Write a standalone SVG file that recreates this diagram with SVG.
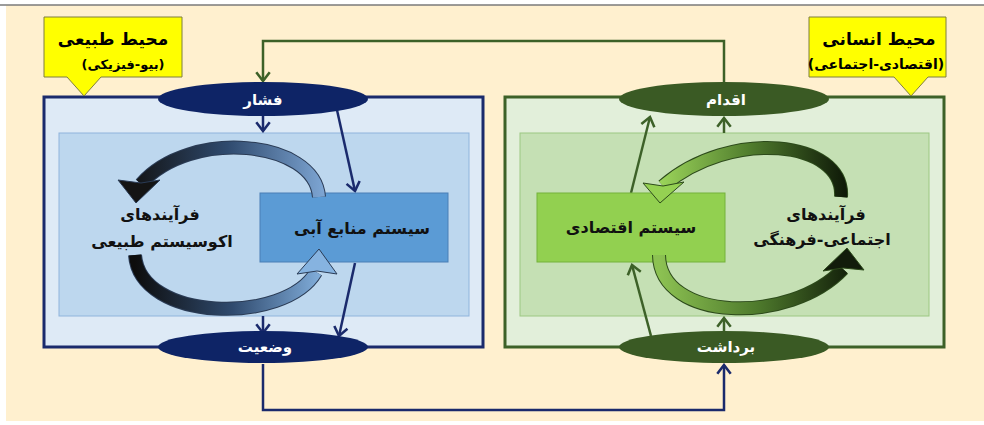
<svg xmlns="http://www.w3.org/2000/svg" width="984" height="425" viewBox="0 0 984 425">
<defs>
<style>
.t{font-family:"DejaVu Sans","Noto Sans",sans-serif;font-weight:bold;text-anchor:middle}
.w{fill:#fff;font-size:15px}
.b{fill:#111;font-size:16px}
.nv{fill:none;stroke:#1a2a6c;stroke-width:2.5}
.gr{fill:none;stroke:#3d6128;stroke-width:2.5}
.ar{fill:none;stroke-width:12}
.ob{fill:none;stroke:#2a3b55;stroke-width:14}
.og{fill:none;stroke:#2c4a1a;stroke-width:14}
.hb{stroke:#2a3b55;stroke-width:1}
.hg{stroke:#2c4a1a;stroke-width:1}
</style>
<marker id="an" viewBox="0 0 10 10" refX="9" refY="5" markerWidth="16" markerHeight="16" markerUnits="userSpaceOnUse" orient="auto"><path d="M3.5,0.8 L9,5 L3.5,9.2" fill="none" stroke="#1a2a6c" stroke-width="1.6"/></marker>
<marker id="ag" viewBox="0 0 10 10" refX="9" refY="5" markerWidth="16" markerHeight="16" markerUnits="userSpaceOnUse" orient="auto"><path d="M3.5,0.8 L9,5 L3.5,9.2" fill="none" stroke="#3d6128" stroke-width="1.6"/></marker>
<linearGradient id="g1" gradientUnits="userSpaceOnUse" x1="325" y1="0" x2="130" y2="0"><stop offset="0" stop-color="#7ea6d4"/><stop offset="0.5" stop-color="#2f4a6e"/><stop offset="1" stop-color="#121212"/></linearGradient>
<linearGradient id="g2" gradientUnits="userSpaceOnUse" x1="135" y1="0" x2="330" y2="0"><stop offset="0" stop-color="#0d0d0d"/><stop offset="0.5" stop-color="#2f4a6e"/><stop offset="1" stop-color="#8ab8e6"/></linearGradient>
<linearGradient id="g3" gradientUnits="userSpaceOnUse" x1="845" y1="0" x2="660" y2="0"><stop offset="0" stop-color="#0f1a08"/><stop offset="0.5" stop-color="#4e7a2c"/><stop offset="1" stop-color="#9bd45a"/></linearGradient>
<linearGradient id="g4" gradientUnits="userSpaceOnUse" x1="660" y1="0" x2="855" y2="0"><stop offset="0" stop-color="#8cc152"/><stop offset="0.5" stop-color="#4e7a2c"/><stop offset="1" stop-color="#0f1a08"/></linearGradient>
</defs>
<rect width="984" height="425" fill="#fff"/>
<rect x="6" y="5" width="978" height="416" fill="#fff0cf"/>
<line x1="0" y1="5" x2="984" y2="5" stroke="#7a7a7a" stroke-width="1.5"/>

<g id="natural-env">
<rect x="44" y="97" width="439" height="250" fill="#deeaf6" stroke="#1a2a6c" stroke-width="3"/>
<rect x="59" y="133" width="410" height="183" fill="#bdd7ee" stroke="#8fb4dc" stroke-width="1"/>
</g>
<g id="human-env">
<rect x="505" y="97" width="439" height="250" fill="#e2efda" stroke="#3d6128" stroke-width="3"/>
<rect x="520" y="133" width="409" height="183" fill="#c5e0b4" stroke="#9cc882" stroke-width="1"/>
</g>

<g id="callout-natural">
<path d="M44,17 H182 V77 H101 L84,96 L67,77 H44 Z" fill="#ffff00" stroke="#7f7f3f" stroke-width="1"/>
<text class="t" x="113" y="45" font-size="17" fill="#000">محیط طبیعی</text>
<text class="t" x="123" y="69" font-size="13" fill="#000">(بیو-فیزیکی)</text>
</g>
<g id="callout-human">
<path d="M809,17 H946 V77 H928 L911,96 L894,77 H809 Z" fill="#ffff00" stroke="#7f7f3f" stroke-width="1"/>
<text class="t" x="879" y="45" font-size="17" fill="#000">محیط انسانی</text>
<text class="t" x="876" y="69" font-size="14" fill="#000">(اقتصادی-اجتماعی)</text>
</g>

<g id="connectors">
<path class="gr" d="M724,84 V41 H263 V81" marker-end="url(#ag)"/>
<path class="nv" d="M263,364 V410 H724 V365" marker-end="url(#an)"/>
<path class="nv" d="M263,116 V131" marker-end="url(#an)"/>
<path class="nv" d="M337,110 L355,191" marker-end="url(#an)"/>
<path class="nv" d="M355,263 L339,336" marker-end="url(#an)"/>
<path class="nv" d="M263,316 V333" marker-end="url(#an)"/>
<path class="gr" d="M724,133 V118" marker-end="url(#ag)"/>
<path class="gr" d="M631,193 L650,117" marker-end="url(#ag)"/>
<path class="gr" d="M651,336 L632,265" marker-end="url(#ag)"/>
<path class="gr" d="M724,333 V318" marker-end="url(#ag)"/>
</g>

<g id="water-system">
<rect x="260" y="193" width="188" height="69" fill="#5b9bd5" stroke="#4a7fb5" stroke-width="1"/>
<text class="t b" x="362" y="234">سیستم منابع آبی</text>
</g>
<g id="economic-system">
<rect x="537" y="193" width="188" height="69" fill="#92d050" stroke="#75b23a" stroke-width="1"/>
<text class="t b" x="631" y="233">سیستم اقتصادی</text>
</g>

<g id="eco-processes">
<path class="ob" d="M319,197 C315,140 190,128 141,184"/>
<path class="ar" d="M319,197 C315,140 190,128 141,184" stroke="url(#g1)"/>
<polygon class="hb" points="118,180 141,183 160,180 136,203" fill="#141414"/>
<path class="ob" d="M135,255 C140,322 285,325 316,272"/>
<path class="ar" d="M135,255 C140,322 285,325 316,272" stroke="url(#g2)"/>
<polygon class="hb" points="297,274 317,271 337,274 319,249" fill="#86b3e0"/>
<text class="t b" x="160" y="220">فرآیندهای</text>
<text class="t b" x="162" y="247">اکوسیستم طبیعی</text>
</g>
<g id="socio-processes">
<path class="og" d="M841,197 C845,140 730,128 663,186"/>
<path class="ar" d="M841,197 C845,140 730,128 663,186" stroke="url(#g3)"/>
<polygon class="hg" points="643,183 663,186 684,182 660,203" fill="#95d152"/>
<path class="og" d="M659,255 C660,322 790,325 843,269"/>
<path class="ar" d="M659,255 C660,322 790,325 843,269" stroke="url(#g4)"/>
<polygon class="hg" points="823,271 843,268 864,270 847,248" fill="#121c0b"/>
<text class="t b" x="826" y="220">فرآیندهای</text>
<text class="t b" x="822" y="245">اجتماعی-فرهنگی</text>
</g>

<g id="node-pressure">
<ellipse cx="263" cy="99" rx="105" ry="17" fill="#0e2466"/>
<text class="t w" x="263" y="105">فشار</text>
</g>
<g id="node-state">
<ellipse cx="263" cy="347" rx="105" ry="16" fill="#0e2466"/>
<text class="t w" x="265" y="352">وضعیت</text>
</g>
<g id="node-response">
<ellipse cx="724" cy="99" rx="105" ry="17" fill="#3a5a24"/>
<text class="t w" x="726" y="105">اقدام</text>
</g>
<g id="node-impact">
<ellipse cx="724" cy="347" rx="105" ry="16" fill="#3a5a24"/>
<text class="t w" x="726" y="352">برداشت</text>
</g>
</svg>
